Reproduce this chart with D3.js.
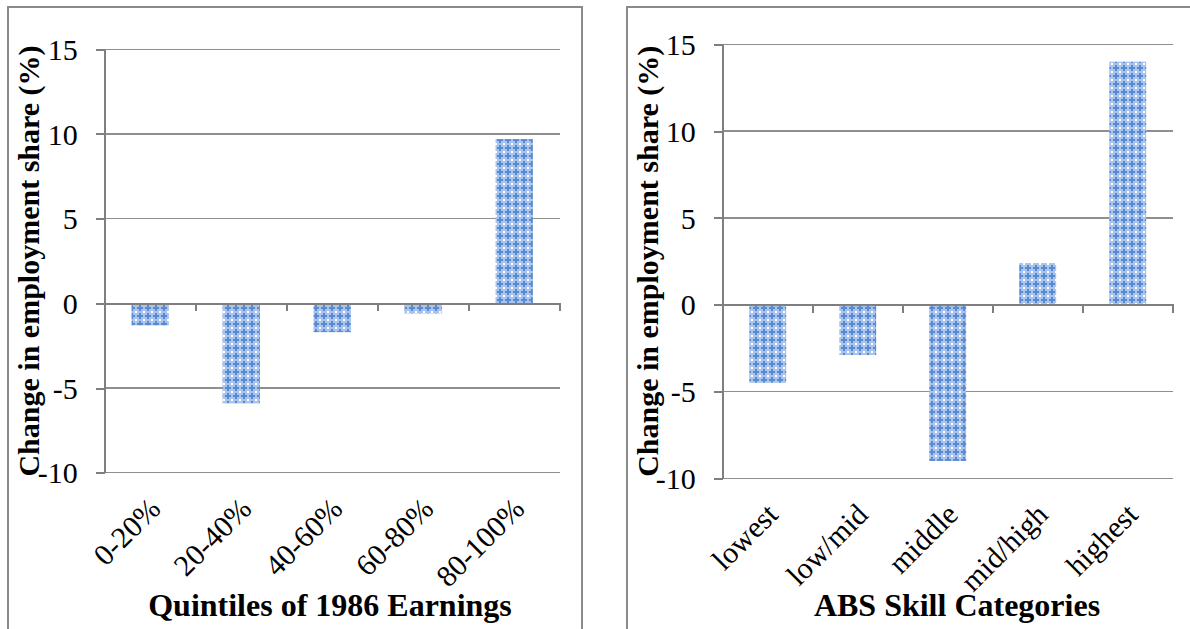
<!DOCTYPE html>
<html>
<head>
<meta charset="utf-8">
<title>Change in employment share</title>
<style>
body { margin: 0; background: #fff; }
text { font-family: "Liberation Serif", "Times New Roman", serif; fill: #000; }
.tick-label { font-size: 30px; }
.cat-label { font-size: 30px; }
.title { font-weight: bold; }
.grid line { stroke: #8f8f8f; stroke-width: 1.4; shape-rendering: crispEdges; }
.axis line, .axis path { stroke: #7f7f7f; stroke-width: 2; shape-rendering: crispEdges; }
.frame { fill: none; stroke: #8a8a8a; stroke-width: 2; }
</style>
</head>
<body>
<div id="chart"></div>
<script src="https://cdn.jsdelivr.net/npm/d3@7/dist/d3.min.js"></script>
<script>
var earnCats = ["0-20%", "20-40%", "40-60%", "60-80%", "80-100%"];
var earnVals = [-1.3, -5.9, -1.7, -0.6, 9.7];
var skillCats = ["lowest", "low/mid", "middle", "mid/high", "highest"];
var skillVals = [-4.5, -2.9, -9.0, 2.4, 14.0];
var yTicks = [-10, -5, 0, 5, 10, 15];
var yTitle = "Change in employment share (%)";

(function() {
    var width = 1190, height = 629;

    var svg = d3.select("#chart").append("svg")
        .attr("width", width)
        .attr("height", height);

    // bar fill: blue lattice like the spreadsheet pattern
    var pat = svg.append("defs").append("pattern")
        .attr("id", "lattice")
        .attr("patternUnits", "userSpaceOnUse")
        .attr("width", 8).attr("height", 8);
    pat.append("rect").attr("width", 8).attr("height", 8).attr("fill", "#a9c4ec");
    pat.append("rect").attr("x", 1).attr("y", 3).attr("width", 6).attr("height", 2).attr("fill", "#5a8bd2");
    pat.append("rect").attr("x", 3).attr("y", 1).attr("width", 2).attr("height", 6).attr("fill", "#5a8bd2");
    [[0, 0], [7, 0], [0, 7], [7, 7]].forEach(function(c) {
        pat.append("rect").attr("x", c[0]).attr("y", c[1]).attr("width", 1).attr("height", 1).attr("fill", "#ffffff");
    });

    var panels = [
        { frame: [8, 7, 574, 640], left: 104.7, right: 559.7, top: 49.3, bottom: 472.7,
          yTitleX: 39, xTitleX: 330, cats: earnCats, vals: earnVals, xTitle: "Quintiles of 1986 Earnings" },
        { frame: [627, 7, 600, 640], left: 722.7, right: 1172.7, top: 44.3, bottom: 478.3,
          yTitleX: 658, xTitleX: 957, cats: skillCats, vals: skillVals, xTitle: "ABS Skill Categories" }
    ];

    panels.forEach(function(p) {
        var g = svg.append("g");

        g.append("rect")
            .attr("class", "frame")
            .attr("x", p.frame[0]).attr("y", p.frame[1])
            .attr("width", p.frame[2]).attr("height", p.frame[3]);

        var y = d3.scaleLinear()
            .domain([d3.min(yTicks), d3.max(yTicks)])
            .range([p.bottom, p.top]);
        var x = d3.scaleBand()
            .domain(p.cats)
            .range([p.left, p.right])
            .paddingInner(0.59)
            .paddingOuter(0.295);
        var xEdge = d3.scaleLinear()
            .domain([0, p.cats.length])
            .range([p.left, p.right]);

        // gridlines
        g.append("g")
            .attr("class", "grid")
            .selectAll("line")
            .data(yTicks.filter(function(d) { return d !== 0; }))
            .enter().append("line")
            .attr("x1", p.left).attr("x2", p.right)
            .attr("y1", function(d) { return y(d); })
            .attr("y2", function(d) { return y(d); });

        // y axis (plain hyphen for negatives, as in the original)
        var yAxis = d3.axisLeft(y)
            .tickValues(yTicks)
            .tickSize(9)
            .tickPadding(18)
            .tickSizeOuter(0)
            .tickFormat(function(d) { return String(d); });
        var ya = g.append("g")
            .attr("class", "axis")
            .attr("transform", "translate(" + p.left + ",0)")
            .call(yAxis);
        ya.attr("font-size", null).attr("font-family", null);
        ya.selectAll("text")
            .attr("class", "tick-label")
            .attr("dy", "0.34em");

        // bars
        g.append("g")
            .selectAll("rect")
            .data(p.vals)
            .enter().append("rect")
            .attr("x", function(d, i) { return x(p.cats[i]); })
            .attr("width", x.bandwidth())
            .attr("y", function(d) { return y(Math.max(0, d)); })
            .attr("height", function(d) { return Math.abs(y(d) - y(0)); })
            .attr("fill", "url(#lattice)");

        // zero line with category boundary ticks
        var xAxis = d3.axisBottom(xEdge)
            .tickValues(d3.range(p.cats.length + 1))
            .tickSize(8)
            .tickFormat("");
        g.append("g")
            .attr("class", "axis")
            .attr("transform", "translate(0," + y(0) + ")")
            .call(xAxis);

        // category labels
        g.append("g")
            .selectAll("text")
            .data(p.cats)
            .enter().append("text")
            .attr("class", "cat-label")
            .attr("text-anchor", "end")
            .attr("transform", function(d) {
                var cx = x(d) + x.bandwidth() / 2 + 12;
                return "translate(" + cx + "," + (p.bottom + 38) + ") rotate(-45)";
            })
            .text(function(d) { return d; });

        // axis titles
        g.append("text")
            .attr("class", "title")
            .attr("font-size", 30)
            .attr("text-anchor", "middle")
            .attr("transform", "translate(" + p.yTitleX + "," + ((p.top + p.bottom) / 2) + ") rotate(-90)")
            .text(yTitle);
        g.append("text")
            .attr("class", "title")
            .attr("font-size", 32)
            .attr("text-anchor", "middle")
            .attr("x", p.xTitleX)
            .attr("y", 616)
            .text(p.xTitle);
    });
})();
</script>
</body>
</html>
